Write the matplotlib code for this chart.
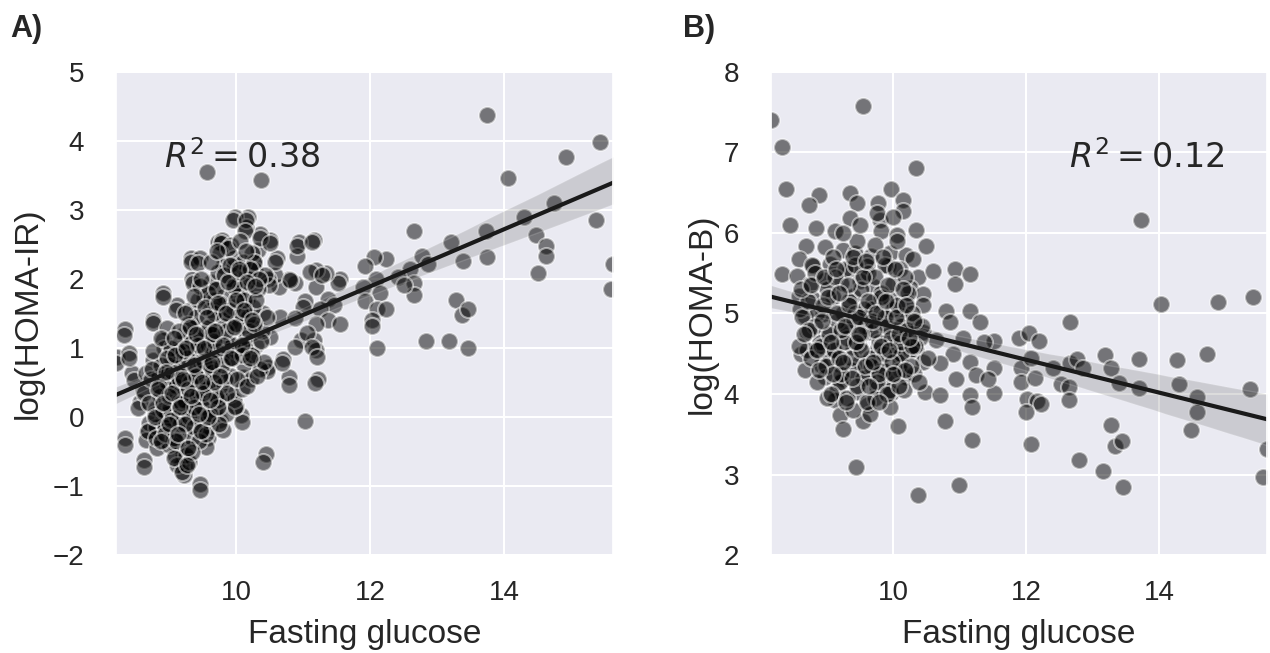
import numpy as np
import matplotlib
matplotlib.use("Agg")
import matplotlib.pyplot as plt
import seaborn as sns

# panel A: fasting glucose vs log(HOMA-IR)
glucose_a = [
    13.74, 15.44, 14.92, 14.06, 9.56, 10.36, 14.74, 15.37, 14.29, 12.66, 13.20, 13.73,
    13.74, 13.38, 14.48, 14.63, 14.62, 14.51, 15.62, 15.60, 13.28, 13.37, 13.46, 12.83,
    13.17, 13.46, 12.78, 12.87, 12.60, 12.66, 12.66, 12.42, 12.51, 12.23, 12.06, 11.92,
    12.08, 12.14, 11.89, 11.92, 12.10, 12.23, 12.02, 12.03, 12.10, 11.55, 11.52, 11.34,
    11.19, 11.19, 11.37, 11.46, 11.25, 11.37, 11.55, 11.19, 11.16, 10.93, 10.90, 11.02,
    10.87, 10.78, 10.63, 10.57, 10.47, 10.60, 10.50, 10.35, 10.18, 9.98, 10.14, 10.32,
    10.26, 10.96, 11.16, 11.19, 11.22, 10.78, 10.69, 10.47, 11.02, 10.44, 10.07, 9.99,
    9.76, 9.57, 9.46, 9.23, 9.20, 8.62, 8.33, 8.66, 8.21, 8.39, 8.33, 8.44, 8.56, 8.75,
    8.90, 9.34, 9.32, 9.46, 9.11, 9.73, 9.79,
    9.95, 10.15, 10.13, 10.35, 10.50, 9.77, 9.92, 10.90, 11.13, 9.75, 10.23, 10.58,
    9.32, 9.42, 9.80, 9.97, 10.28, 10.13, 9.35, 11.10, 11.28, 10.80, 9.65, 9.95, 10.48,
    8.90, 9.52, 10.18, 11.00, 9.10, 9.30, 9.75, 10.10, 10.40, 10.65, 10.88, 8.75, 8.97,
    9.35, 9.60, 9.90, 10.25, 10.50, 11.05, 8.32, 8.90, 9.15, 9.47, 9.77, 10.10, 10.88,
    11.13, 8.20, 8.40, 8.75, 9.07, 9.32, 9.60, 9.90, 10.25, 10.68, 11.20, 8.47, 8.65,
    8.95, 9.25, 9.50, 9.80, 10.10, 10.45, 10.78, 11.18, 8.60, 8.85, 9.10, 9.42, 9.65,
    9.90, 8.53, 8.80, 9.02, 9.25, 9.55, 9.77, 9.97, 8.70, 8.90, 9.15, 9.40, 9.60, 9.80,
    10.08, 8.33, 8.65, 8.90, 9.10, 9.25, 9.55, 10.40, 8.62, 9.17, 9.22, 9.45,
    9.05, 9.12, 9.18, 9.22, 9.28, 9.30, 9.35, 9.38, 9.40, 9.42, 9.45, 9.48, 9.50, 9.52,
    9.55, 9.58, 9.60, 9.62, 9.65, 9.68, 9.70, 9.72, 9.75, 9.78, 9.80, 9.82, 9.85, 9.88,
    9.90, 9.92, 9.95, 9.97, 10.00, 10.02, 10.05, 10.08, 10.10, 10.12, 10.15, 10.18,
    10.20, 10.22, 10.25, 10.30, 10.32, 10.35, 10.38, 10.42, 8.95, 8.98, 9.00, 9.02,
    8.85, 8.80, 8.92, 9.08, 9.15, 9.20, 9.27, 9.33, 9.37, 9.45, 9.53, 9.57, 9.63, 9.67,
    9.73, 9.83, 9.87, 9.93, 9.98, 10.03, 10.06, 10.13, 10.27, 10.45,
    8.62, 8.68, 8.72, 8.78, 8.82, 8.86, 8.88, 8.93, 8.96, 8.99, 9.01, 9.04, 9.06, 9.09,
    9.11, 9.13, 9.16, 9.19, 9.21, 9.24, 9.26, 9.29, 9.31, 9.34, 9.36, 9.39, 9.41, 9.44,
    9.46, 9.49, 9.51, 9.54, 9.56, 9.59, 9.61, 9.64, 9.66, 9.69, 9.71, 9.74,
    9.58, 9.62, 9.67, 9.71, 9.76, 9.79, 9.81, 9.84, 9.86, 9.89, 9.91, 9.94, 9.96, 9.99,
    10.01, 10.04, 10.07, 10.09, 10.11, 10.14, 10.16, 10.19, 10.21, 10.24, 10.26, 10.29,
    10.31, 10.34, 10.37, 10.41, 9.03, 9.14, 9.23, 9.36, 9.47, 8.76, 8.87, 9.11, 9.19, 9.29,
    8.70, 8.74, 8.80, 8.84, 8.90, 8.94, 8.97, 9.00, 9.03, 9.07, 9.10, 9.14, 9.17, 9.20,
    9.23, 9.27, 9.30, 9.33, 9.37, 9.40, 9.43, 9.47, 9.50, 9.53, 9.57, 9.60, 9.63, 9.67,
    9.70, 9.73,
    8.78, 8.83, 8.87, 8.91, 8.95, 9.00, 9.04, 9.08, 9.12, 9.16, 9.20, 9.24, 9.28, 9.32,
    9.36, 9.40, 9.44, 9.48, 9.52, 9.56, 9.60, 9.64, 9.68, 9.72, 9.76, 9.80, 9.84, 9.88,
    9.92, 9.96, 10.00, 10.04, 10.08, 10.12, 10.16, 10.20, 10.24, 10.28, 9.06, 9.26,
]
homa_ir = [
    4.37, 3.98, 3.77, 3.46, 3.55, 3.43, 3.10, 2.85, 2.89, 2.70, 2.54, 2.69,
    2.32, 2.26, 2.63, 2.48, 2.33, 2.08, 2.21, 1.86, 1.69, 1.48, 1.56, 1.10,
    1.10, 1.00, 2.33, 2.21, 2.15, 1.94, 1.77, 2.03, 1.91, 2.29, 2.32, 2.19,
    2.00, 1.80, 1.89, 1.68, 1.56, 1.56, 1.41, 1.32, 1.00, 2.00, 1.94, 2.09,
    2.13, 1.89, 1.71, 1.62, 1.56, 1.41, 1.35, 1.35, 2.57, 2.54, 2.33, 1.68,
    1.94, 2.00, 1.89, 2.06, 2.00, 2.30, 2.57, 2.65, 2.89, 2.89, 2.75, 2.42,
    2.25, 1.12, 1.12, 0.97, 0.55, 0.58, 0.84, 0.72, -0.06, -0.54, 0.03, 0.16,
    -0.04, -0.30, -0.97, -0.71, -0.57, -0.62, -0.30, -0.22, 0.87, 0.93, 1.28, 0.64, 0.22, 1.41,
    1.80, 2.00, 2.30, 2.30, 1.62, 2.54, 2.57,
    2.85, 2.85, 2.69, 2.59, 2.52, 2.52, 2.49, 2.47, 2.54, 2.37, 2.37, 2.25,
    2.25, 2.23, 2.18, 2.18, 2.13, 2.03, 1.94, 2.10, 2.06, 1.99, 1.86, 1.89, 1.91,
    1.74, 1.72, 1.74, 1.60, 1.55, 1.55, 1.57, 1.55, 1.50, 1.45, 1.43, 1.36, 1.29,
    1.33, 1.31, 1.36, 1.31, 1.16, 1.21, 1.19, 1.12, 1.07, 1.12, 1.07, 1.02, 1.02,
    1.02, 0.78, 0.85, 0.83, 0.87, 0.87, 0.85, 0.83, 0.83, 0.78, 0.87, 0.54, 0.63,
    0.63, 0.66, 0.68, 0.63, 0.58, 0.66, 0.46, 0.49, 0.39, 0.37, 0.42, 0.44, 0.44,
    0.34, 0.13, 0.13, 0.20, 0.22, 0.25, 0.27, 0.25, -0.09, -0.04, 0.00, -0.02, -0.14, -0.19,
    -0.07, -0.41, -0.33, -0.33, -0.41, -0.43, -0.43, -0.65, -0.72, -0.70, -0.84, -1.06,
    0.55, 0.75, 0.95, 1.20, 0.10, 0.35, 0.60, 1.00, 1.45, 1.70, 0.80, -0.20, 0.05, 1.25,
    0.55, 1.05, 1.55, 1.95, 0.70, 0.10, 1.25, 2.10, 0.45, 0.90, 1.40, 1.75, 0.05, 1.15,
    2.00, 0.60, 1.60, 2.30, 0.95, 1.30, 1.85, 0.40, 2.25, 0.75, 1.15, 1.45,
    2.00, 0.55, 1.60, 1.05, 1.85, 0.70, 1.25, 2.05, 0.05, 0.40, -0.20, 0.85,
    0.60, -0.15, 1.00, -0.55, 0.25, -0.20, 1.35, -0.30, 0.25, 1.90, 0.40, -0.05, 0.95, 1.70,
    0.25, 0.55, 2.45, 1.05, 0.15, 1.75, 2.55, 1.00, 2.25, 1.45,
    0.35, -0.20, 0.55, 0.05, -0.45, 0.30, 0.75, -0.15, 0.50, -0.40, 0.15, 0.65, -0.30, 0.45,
    0.00, 0.95, -0.10, 0.60, 0.25, -0.55, 0.85, 0.00, 0.50, 1.10, -0.15, 0.70, 0.30, -0.35,
    1.20, 0.15, 0.80, -0.25, 0.45, 1.30, 0.05, 0.65, 1.50, 0.30, 0.95, -0.10,
    1.80, 2.25, 1.10, 2.40, 1.65, 0.75, 2.05, 1.25, 0.35, 1.55, 2.20, 0.85, 1.90, 1.35,
    0.55, 2.10, 1.50, 0.90, 1.70, 2.40, 0.45, 1.25, 2.15, 0.90, 1.35, 1.70,
    0.60, 2.00, 1.10, 0.80, 1.00, 1.25, 1.50, 1.75, 2.00, 0.95, 1.15, -0.70, -0.80, -0.65,
    0.20, 0.70, -0.30, 0.45, 0.10, -0.25, 0.85, 0.30, -0.05, 1.15, -0.35, 0.55, 0.20, 0.95,
    -0.10, 0.40, 1.30, -0.50, 0.15, 0.60, 1.05, -0.20, 0.35, 1.60, 0.00, 0.75, 1.20, 0.50,
    1.85, 0.15,
    0.00, 0.40, -0.35, 0.20, 0.65, -0.10, 0.35, 0.90, -0.25, 0.15, 0.55, 1.00, -0.45, 0.30,
    0.75, 1.20, 0.05, 0.50, 1.00, 1.45, 0.25, 0.80, 1.25, 1.65, 0.60, 1.05, 1.50, 1.95,
    0.85, 1.30, 1.70, 2.15, 1.05, 1.55, 1.95, 0.85, 1.40, 1.90, -0.60, -0.70,
]

# panel B: fasting glucose vs log(HOMA-B)
glucose_b = [
    8.16, 8.32, 9.55, 10.34, 9.44, 10.99, 10.37,
    11.52, 11.52, 11.52, 11.89, 12.04, 12.19, 11.92, 12.07, 11.92, 12.13, 12.01, 12.16,
    12.22, 12.00, 12.07, 12.40, 12.52, 12.66, 12.76, 12.85, 12.64, 12.64, 12.66, 13.18,
    13.28, 13.40, 13.70, 13.70, 13.73, 14.03, 14.89, 15.41, 14.27, 14.72, 14.30, 14.57,
    14.57, 14.48, 15.36, 15.63, 15.57, 13.28, 13.34, 13.44, 13.46, 13.15, 12.80,
    8.39, 8.89, 8.74, 9.35, 9.45, 9.97, 10.15, 10.15, 9.77, 9.80, 9.35, 8.44, 8.84,
    9.12, 9.82, 10.05, 10.35, 10.50, 8.69, 8.97, 9.25, 9.42, 9.67, 9.95, 10.20, 10.30,
    8.59, 8.32, 8.55, 8.80, 9.05, 9.35, 9.60, 9.92, 10.10, 10.38, 10.60, 10.93, 10.93,
    11.16, 8.75, 8.97, 9.22, 9.50, 9.70, 10.00, 10.25, 10.45, 8.59, 8.80, 9.10, 9.40,
    9.70, 9.95, 10.20, 10.45, 10.80, 8.67, 8.94, 9.25, 9.55, 9.85, 10.15, 10.35, 10.85,
    11.16, 11.31, 8.70, 9.05, 9.32, 9.65, 9.92, 10.20, 10.45, 10.65, 11.05, 8.62, 8.84,
    9.10, 9.40, 9.75, 10.05, 10.35, 10.90, 11.36, 8.92, 9.20, 9.50, 9.80, 10.10, 10.45,
    10.70, 11.16, 8.97, 9.25, 9.60, 9.90, 10.20, 10.95, 11.25, 11.43, 9.15, 9.45, 9.75,
    9.97, 10.48, 10.70, 11.16, 11.18, 9.12, 9.60, 9.95, 9.20, 9.25, 9.55, 10.07, 10.78,
    11.18,
    8.85, 8.90, 9.00, 9.05, 9.10, 9.15, 9.20, 9.28, 9.30, 9.33, 9.38, 9.42, 9.45, 9.48,
    9.52, 9.55, 9.58, 9.62, 9.65, 9.68, 9.72, 9.72, 9.78, 9.82, 9.85, 9.88, 9.90, 9.95,
    10.00, 10.02, 10.05, 10.10, 10.12, 10.18, 10.25, 10.28, 10.32, 10.40, 8.70, 8.78,
    8.60, 9.00, 9.25, 9.50, 9.75, 10.00, 9.40, 9.65,
    8.58, 8.63, 8.68, 8.72, 8.77, 8.82, 8.86, 8.91, 8.95, 8.99, 9.03, 9.07, 9.11, 9.16,
    9.21, 9.26, 9.31, 9.36, 9.41, 9.46, 9.51, 9.56, 9.61, 9.66, 9.71, 9.76, 9.81, 9.86,
    9.91, 9.96, 10.01, 10.06, 10.11, 10.16, 10.21, 10.27, 10.33, 10.39, 10.44, 10.52,
    8.62, 8.73, 8.83, 8.93, 9.02, 9.12, 9.22, 9.32, 9.42, 9.52, 9.62, 9.72, 9.82, 9.92,
    10.02, 10.12, 10.22, 10.32, 9.18, 9.38, 9.58, 9.78, 9.98, 10.18, 9.28, 9.48, 9.68,
    9.88, 10.08, 10.28,
    8.66, 8.76, 8.86, 8.96, 9.06, 9.14, 9.24, 9.34, 9.44, 9.54, 9.64, 9.74, 9.84, 9.94,
    10.04, 10.14, 10.24, 9.09, 9.29, 9.49, 9.69, 9.89, 10.09, 9.39, 9.59, 9.79, 9.99,
    10.19, 8.88, 9.19,
]
homa_b = [
    7.40, 7.07, 7.57, 6.81, 3.09, 2.87, 2.75,
    4.66, 4.32, 4.01, 4.69, 4.76, 4.66, 4.32, 4.45, 4.15, 4.20, 3.94, 3.91,
    3.88, 3.78, 3.38, 4.32, 4.12, 4.38, 4.43, 4.32, 4.09, 3.93, 4.89, 4.48,
    4.32, 4.14, 4.44, 4.07, 6.16, 5.12, 5.14, 5.20, 4.42, 4.50, 4.12, 3.96,
    3.78, 3.55, 4.06, 3.32, 2.97, 3.62, 3.36, 3.41, 2.84, 3.04, 3.18,
    6.55, 6.47, 6.35, 6.49, 6.37, 6.55, 6.41, 6.27, 6.37, 6.16, 6.18, 6.10, 6.06,
    6.02, 6.02, 5.98, 6.04, 5.84, 5.84, 5.82, 5.79, 5.75, 5.71, 5.75, 5.73, 5.67,
    5.67, 5.49, 5.47, 5.59, 5.61, 5.55, 5.59, 5.59, 5.55, 5.45, 5.53, 5.55, 5.36,
    5.49, 5.36, 5.42, 5.38, 5.40, 5.34, 5.36, 5.32, 5.24, 5.22, 5.18, 5.20, 5.22,
    5.16, 5.18, 5.14, 5.10, 5.03, 4.97, 4.99, 5.01, 4.97, 4.95, 4.97, 4.89, 4.89,
    5.03, 4.89, 4.77, 4.77, 4.81, 4.77, 4.73, 4.71, 4.77, 4.67, 4.69, 4.50, 4.54,
    4.56, 4.58, 4.54, 4.50, 4.54, 4.50, 4.64, 4.36, 4.36, 4.40, 4.36, 4.40, 4.40,
    4.38, 4.40, 4.21, 4.19, 4.21, 4.19, 4.21, 4.19, 4.23, 4.19, 4.05, 4.03, 4.07,
    4.01, 4.03, 3.99, 3.99, 3.84, 3.93, 3.86, 3.84, 3.74, 3.56, 3.66, 3.60, 3.66,
    3.43,
    5.00, 4.65, 5.30, 4.45, 5.70, 4.90, 4.15, 5.55, 4.70, 5.15, 4.30, 5.00, 5.90, 4.60,
    5.30, 4.20, 4.85, 5.50, 4.45, 5.05, 3.95, 5.85, 4.65, 5.25, 4.30, 5.60, 4.85, 4.05,
    5.05, 4.60, 5.90, 4.30, 4.85, 5.45, 4.55, 5.00, 4.25, 4.70, 4.55, 5.60,
    5.05, 3.95, 6.00, 6.10, 6.25, 6.20, 3.80, 3.75,
    4.60, 4.95, 4.30, 5.15, 4.45, 4.85, 4.15, 4.60, 5.10, 4.35, 4.75, 4.00, 4.55, 5.00,
    4.25, 4.65, 3.95, 4.45, 4.90, 4.10, 4.55, 5.05, 3.90, 4.35, 4.80, 4.15, 5.20, 4.50,
    4.00, 4.70, 4.25, 5.10, 4.50, 4.05, 4.80, 4.35, 4.60, 4.15, 4.85, 4.45,
    5.30, 4.80, 5.50, 4.90, 5.20, 5.45, 4.80, 5.35, 5.60, 4.75, 5.15, 5.45, 4.60, 5.35,
    5.55, 4.65, 5.25, 4.90, 4.45, 4.20, 4.35, 4.25, 4.40, 4.30, 4.85, 4.95, 4.90,
    4.95, 4.75, 4.60,
    4.75, 5.35, 4.55, 5.45, 4.65, 5.55, 4.40, 5.10, 4.65, 5.45, 4.10, 5.00, 5.70, 4.55,
    4.95, 5.30, 4.70, 4.25, 3.90, 4.75, 4.40, 5.15, 4.10, 5.70, 5.65, 3.90, 4.25,
    5.10, 4.30, 5.25,
]

sns.set_theme(style="darkgrid")
plt.rcParams['font.family'] = ['Liberation Sans', 'DejaVu Sans']
plt.rcParams['mathtext.fontset'] = 'dejavusans'

fig = plt.figure(figsize=(12.7, 6.53), dpi=100)
ax1 = fig.add_axes([0.0913, 0.150, 0.391, 0.740])
ax2 = fig.add_axes([0.607, 0.150, 0.391, 0.740])

scat = dict(color="black", alpha=0.5, s=150, edgecolor="white", linewidths=1.5)
line = dict(color="#1a1a1a", lw=3)

sns.regplot(x=np.array(glucose_a), y=np.array(homa_ir), ax=ax1, truncate=False,
            scatter_kws=scat, line_kws=line, color="black", seed=0)
sns.regplot(x=np.array(glucose_b), y=np.array(homa_b), ax=ax2, truncate=False,
            scatter_kws=scat, line_kws=line, color="black", seed=0)

ax1.set_xlim(min(glucose_a), max(glucose_a))
ax1.set_ylim(-2, 5)
ax2.set_xlim(min(glucose_b), max(glucose_b))
ax2.set_ylim(2, 8)
ax1.set_xticks([10, 12, 14])
ax2.set_xticks([10, 12, 14])
ax1.set_yticks(range(-2, 6))
ax2.set_yticks(range(2, 9))

for ax in (ax1, ax2):
    ax.tick_params(labelsize=20, colors="#262626")
    ax.tick_params(axis="x", pad=12)
    ax.tick_params(axis="y", pad=17)
    ax.set_xlabel("Fasting glucose", fontsize=24, color="#262626", labelpad=9)
    ax.grid(color="white", lw=1.5)
ax1.set_ylabel("log(HOMA-IR)", fontsize=24, color="#262626", labelpad=6)
ax2.set_ylabel("log(HOMA-B)", fontsize=24, color="#262626", labelpad=4)

ax1.text(0.097, 0.80, r"$R^2 = 0.38$", transform=ax1.transAxes, fontsize=24, color="#262626")
ax2.text(0.60, 0.80, r"$R^2 = 0.12$", transform=ax2.transAxes, fontsize=24, color="#262626")

fig.text(0.008, 0.943, "A)", fontsize=22, fontweight="bold")
fig.text(0.538, 0.943, "B)", fontsize=22, fontweight="bold")

fig.savefig("out.png", dpi=100)
